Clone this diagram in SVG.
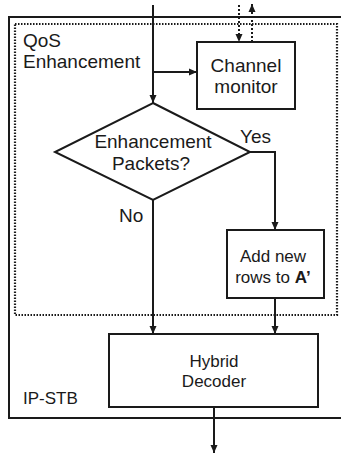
<svg xmlns="http://www.w3.org/2000/svg" width="341" height="455" viewBox="0 0 341 455">
  <style>
    .box { fill: #fff; stroke: #1a1a1a; stroke-width: 2; }
    .line { fill: none; stroke: #1a1a1a; stroke-width: 2; }
    .dots { fill: none; stroke: #1a1a1a; stroke-width: 2.2; stroke-dasharray: 1.5 1.5; }
    text { font-family: "Liberation Sans", Arial, sans-serif; fill: #1a1a1a; }
    .lg { font-size: 19px; }
    .md { font-size: 17px; }
    .c { text-anchor: middle; }
  </style>
  <defs>
    <marker id="arrow" viewBox="0 0 8 8" refX="8" refY="4" markerWidth="8" markerHeight="8" markerUnits="userSpaceOnUse" orient="auto">
      <path d="M0,0.5 L8,4 L0,7.5 Z" fill="#1a1a1a"/>
    </marker>
  </defs>
  <rect width="341" height="455" fill="#fff"/>

  <!-- IP-STB container -->
  <g id="ip-stb">
    <rect class="line" x="9" y="17" width="340" height="401"/>
    <text class="md" x="23" y="404">IP-STB</text>
  </g>

  <!-- QoS enhancement region -->
  <g id="qos-enhancement">
    <rect class="dots" x="15" y="24" width="322" height="291"/>
    <text class="lg" x="23" y="47">QoS</text>
    <text class="lg" x="23" y="68">Enhancement</text>
  </g>

  <g id="channel-monitor">
    <rect class="box" x="197" y="42" width="98" height="67"/>
    <text class="lg c" x="246" y="72">Channel</text>
    <text class="lg c" x="246" y="93">monitor</text>
  </g>

  <g id="decision">
    <polygon class="box" points="153,103 250,152 153,200 55,152"/>
    <text class="lg c" x="153" y="148">Enhancement</text>
    <text class="lg c" x="151" y="170">Packets?</text>
  </g>

  <g id="add-rows">
    <rect class="box" x="227" y="230" width="97" height="68"/>
    <text class="md c" x="273" y="262">Add new</text>
    <text class="md c" x="273" y="283">rows to <tspan font-weight="bold">A’</tspan></text>
  </g>

  <g id="hybrid-decoder">
    <rect class="box" x="109" y="334" width="209" height="73"/>
    <text class="md c" x="214" y="367">Hybrid</text>
    <text class="md c" x="214" y="387">Decoder</text>
  </g>

  <g id="connectors">
    <!-- input stream -->
    <path class="line" d="M153,5 V103" marker-end="url(#arrow)"/>
    <path class="line" d="M153,72 H197" marker-end="url(#arrow)"/>
    <!-- feedback to and from the network -->
    <path class="line" d="M239,5 V42" stroke-dasharray="2 2" marker-end="url(#arrow)"/>
    <path class="line" d="M252,42 V4" stroke-dasharray="2 2" marker-end="url(#arrow)"/>
    <!-- yes branch -->
    <path class="line" d="M250,152 H275 V230" marker-end="url(#arrow)"/>
    <text class="lg" x="240" y="143">Yes</text>
    <!-- no branch -->
    <path class="line" d="M153,200 V334" marker-end="url(#arrow)"/>
    <text class="lg" x="119" y="222">No</text>
    <path class="line" d="M275,298 V334" marker-end="url(#arrow)"/>
    <!-- decoded output -->
    <path class="line" d="M214,407 V453" marker-end="url(#arrow)"/>
  </g>
</svg>
